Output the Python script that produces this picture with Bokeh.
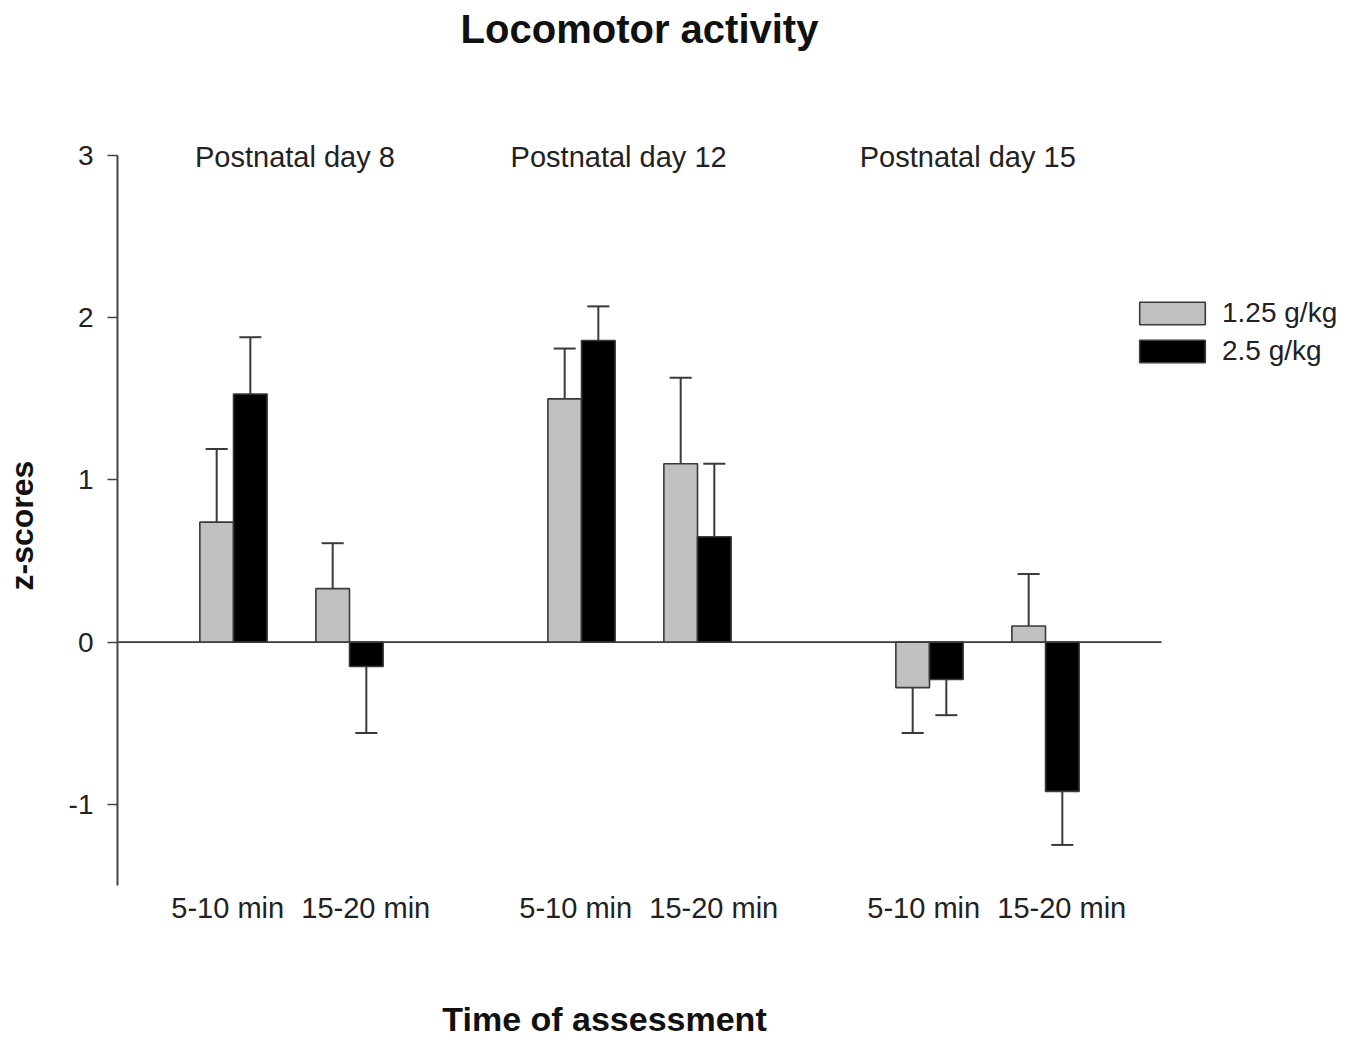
import math
from bokeh.plotting import figure
from bokeh.models import (ColumnDataSource, Label, Legend, LegendItem, FixedTicker)
from bokeh.embed import file_html
from bokeh.resources import INLINE

# ---- data ----
groups = ["Postnatal day 8", "Postnatal day 12", "Postnatal day 15"]
times = ["5-10 min", "15-20 min"]
series = ["1.25 g/kg", "2.5 g/kg"]
low_dose = [0.74, 0.33, 1.50, 1.10, -0.28, 0.10]
low_err = [0.45, 0.28, 0.31, 0.53, 0.28, 0.32]
high_dose = [1.53, -0.15, 1.86, 0.65, -0.23, -0.92]
high_err = [0.35, 0.41, 0.21, 0.45, 0.22, 0.33]
y_ticks = [-1, 0, 1, 2, 3]

FONT = "Liberation Sans"
GRAY = "#c0c0c0"
EDGE = "#3a3a3a"
TXT = "#222222"

W, H = 1350, 1040

# positions of the 6 time slots (3 groups x 2 times, gap between groups)
pos = []
for g in range(len(groups)):
    for t in range(len(times)):
        pos.append(1 + 3 * g + t)

BW = 0.29
OFF = 0.145
CAP = 0.095
Y_LO, Y_HI = -1.5, 3
PXY = 730 / (Y_HI - Y_LO)      # px per y unit
PXX = 116                      # px per x unit
AX_LEFT, AX_TOP, AX_BOTTOM = 117, 155, 885

x_range = (-AX_LEFT / PXX, (W - AX_LEFT) / PXX)
y_range = (Y_LO - (H - AX_BOTTOM) / PXY, Y_HI + AX_TOP / PXY)

def dx(px):   # pixel column -> data x
    return (px - AX_LEFT) / PXX

def dy(py):   # pixel row -> data y
    return y_range[1] - py / PXY

p = figure(width=W, height=H, x_range=x_range, y_range=y_range,
           output_backend="svg", toolbar_location=None, title=None,
           min_border_left=0, min_border_right=0, min_border_top=0,
           min_border_bottom=0)
p.xgrid.visible = False
p.ygrid.visible = False
p.outline_line_color = None
p.background_fill_color = "white"

# zero line
p.segment(x0=[0], y0=[0], x1=[9.0], y1=[0], line_color=EDGE, line_width=1.8)

def draw(vals, errs, shift, fill):
    xs = [x + shift for x in pos]
    ends = [v + (e if v >= 0 else -e) for v, e in zip(vals, errs)]
    src = ColumnDataSource(dict(x=xs, top=vals, end=ends,
                                cl=[x - CAP for x in xs], cr=[x + CAP for x in xs]))
    p.segment(x0="x", y0="top", x1="x", y1="end", source=src,
              line_color=EDGE, line_width=2)
    p.segment(x0="cl", y0="end", x1="cr", y1="end", source=src,
              line_color=EDGE, line_width=2)
    r = p.vbar(x="x", width=BW, top="top", bottom=0, source=src,
               fill_color=fill, line_color=EDGE, line_width=1.6)
    return r

r1 = draw(low_dose, low_err, -OFF, GRAY)
r2 = draw(high_dose, high_err, OFF, "black")

legend = Legend(items=[LegendItem(label=series[0], renderers=[r1]),
                       LegendItem(label=series[1], renderers=[r2])],
                location=(1131, 673), orientation="vertical",
                glyph_width=82, glyph_height=28, label_height=31, spacing=6,
                label_standoff=9, padding=0, margin=0,
                border_line_color=None, background_fill_alpha=0,
                label_text_font=FONT, label_text_font_size="28px",
                label_text_color=TXT)
p.add_layout(legend)

# y axis, drawn at x = 0 inside the frame
ya = p.yaxis[0]
ya.fixed_location = 0
ya.ticker = FixedTicker(ticks=y_ticks)
ya.bounds = (Y_LO, Y_HI)
ya.major_label_overrides = {t: str(t) for t in y_ticks}
ya.axis_line_color = "#444444"
ya.axis_line_width = 2
ya.major_tick_line_color = "#444444"
ya.major_tick_line_width = 1.5
ya.major_tick_out = 10
ya.major_tick_in = 0
ya.minor_tick_line_color = None
ya.major_label_standoff = 14
ya.major_label_text_font = FONT
ya.major_label_text_font_size = "28px"
ya.major_label_text_color = TXT

# x axis: time labels only, drawn at the bottom of the y axis
label_shift = [-0.05, 0.14]
xt = [pos[i] + label_shift[i % 2] for i in range(len(pos))]
xa = p.xaxis[0]
xa.fixed_location = Y_LO
xa.ticker = FixedTicker(ticks=xt)
xa.major_label_overrides = {x: times[i % 2] for i, x in enumerate(xt)}
xa.axis_line_color = None
xa.major_tick_line_color = None
xa.minor_tick_line_color = None
xa.major_tick_out = 0
xa.major_label_standoff = 6
xa.major_label_text_font = FONT
xa.major_label_text_font_size = "29px"
xa.major_label_text_color = TXT

# group labels
group_x = [1.53, 4.32, 7.33]
for gx, gname in zip(group_x, groups):
    p.add_layout(Label(x=gx, y=dy(156), text=gname, text_align="center",
                       text_baseline="middle", text_font=FONT,
                       text_font_size="29px", text_color=TXT))

# chart title and axis titles
p.add_layout(Label(x=dx(639), y=dy(28), text="Locomotor activity", text_align="center",
                   text_baseline="middle", text_font=FONT, text_font_size="40px",
                   text_font_style="bold", text_color="#111111"))
p.add_layout(Label(x=dx(604), y=dy(1018), text="Time of assessment", text_align="center",
                   text_baseline="middle", text_font=FONT, text_font_size="34px",
                   text_font_style="bold", text_color="#111111"))
p.add_layout(Label(x=dx(21), y=dy(525), text="z-scores", text_align="center",
                   text_baseline="middle", angle=math.pi / 2, text_font=FONT,
                   text_font_size="32px", text_font_style="bold",
                   text_color="#111111"))

open("out.html", "w").write(file_html(p, INLINE))
